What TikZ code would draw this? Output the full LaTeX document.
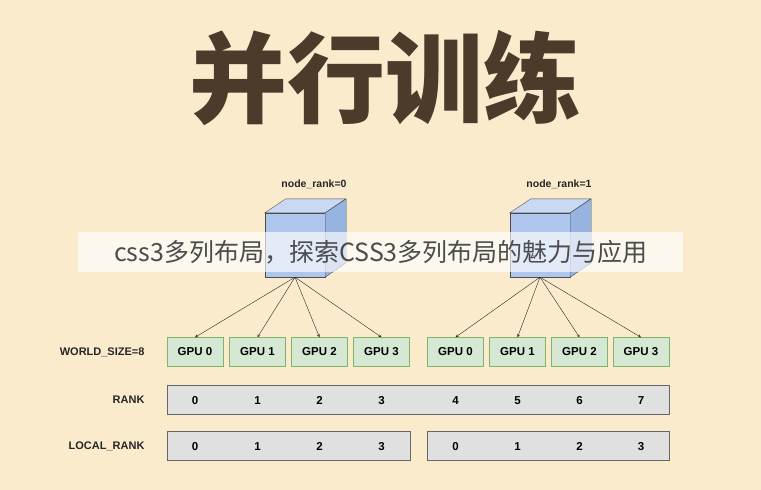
\documentclass[tikz,border=0pt]{standalone}
\usepackage{fontspec}
\setmainfont{Liberation Sans}
\newfontfamily\cjk{Noto Sans CJK SC}
\usetikzlibrary{positioning}
\definecolor{bgcol}{HTML}{FBEBCD}
\definecolor{titlecol}{HTML}{4A3B2A}
\definecolor{gpufill}{HTML}{D5E8D4}
\definecolor{gpuline}{HTML}{82B366}
\definecolor{cubefront}{HTML}{AFC6EC}
\definecolor{cubetop}{HTML}{C9D9F3}
\definecolor{cubeside}{HTML}{97B3E0}
\definecolor{barfill}{HTML}{E0E0E0}
\begin{document}
\begin{tikzpicture}[x=1pt, y=-1pt,
        gpu/.style={rectangle, draw=gpuline, fill=gpufill, minimum width=56pt, minimum height=29pt, inner sep=0pt, font=\bfseries\fontsize{11.5}{13}\selectfont},
        bar/.style={rectangle, draw=black!60, fill=barfill, minimum height=29pt, inner sep=0pt},
        num/.style={text height=8.5pt, text depth=0pt, font=\bfseries\fontsize{11.5}{13}\selectfont},
        rowlabel/.style={anchor=east, text=black!85, font=\bfseries\fontsize{11}{13}\selectfont},
        front/.style={rectangle, draw=black!70, fill=cubefront, minimum width=60pt, minimum height=64pt, inner sep=0pt},
        link/.style={->, >=stealth, black!85}
    ]
        \fill[bgcol] (0,0) rectangle (761,490);
        \useasboundingbox (0,0) rectangle (761,490);

        % Title
        \node[text=titlecol, font=\cjk\bfseries\fontsize{98}{100}\selectfont] (title) at (385,78) {并行训练};

        % Cubes (one per machine)
        \foreach \name/\cx/\r in {cubea/295/0, cubeb/540/1} {
            \node[front] (\name) at (\cx,245) {};
            \draw[black!70, fill=cubetop] (\name.north west) -- ++(21,-14) -- ++(60,0) -- (\name.north east) -- cycle;
            \draw[black!70, fill=cubeside] (\name.north east) -- ++(21,-14) -- ++(0,64) -- (\name.south east) -- cycle;
            \node[text=black!85, font=\bfseries\fontsize{10.5}{12}\selectfont] (\name-lbl) at (\cx+19,184) {node\_rank=\r};
        }

        % GPU row
        \foreach \i/\x in {0/195, 1/257.5, 2/319.5, 3/381.5} {
            \node[gpu] (ga\i) at (\x,352) {GPU \i};
            \draw[link] (cubea.south) -- (ga\i.north);
        }
        \foreach \i/\x in {0/455.5, 1/517.5, 2/579.5, 3/641} {
            \node[gpu] (gb\i) at (\x,352) {GPU \i};
            \draw[link] (cubeb.south) -- (gb\i.north);
        }

        % RANK and LOCAL_RANK bars
        \node[bar, minimum width=502pt] (rankbar) at (418,400) {};
        \node[bar, minimum width=243pt] (locala) at (288.5,446) {};
        \node[bar, minimum width=242pt] (localb) at (548,446) {};
        \foreach \i in {0,...,3} {
            \node[num] at (ga\i |- rankbar) {\i};
            \node[num] at (ga\i |- locala) {\i};
            \node[num] at (gb\i |- localb) {\i};
        }
        \foreach \i/\r in {0/4, 1/5, 2/6, 3/7}
            \node[num] at (gb\i |- rankbar) {\r};

        % Row labels
        \node[rowlabel] (wsl) at (148,352) {WORLD\_SIZE=8};
        \node[rowlabel] (rkl) at (148,400) {RANK};
        \node[rowlabel] (lrl) at (148,446) {LOCAL\_RANK};

        % Caption banner
        \fill[white, opacity=0.65] (78,232) rectangle (683,272);
        \node[text=black!70, font=\cjk\fontsize{25}{28}\selectfont] (banner) at (381,252) {css3多列布局，探索CSS3多列布局的魅力与应用};
    \end{tikzpicture}
\end{document}
